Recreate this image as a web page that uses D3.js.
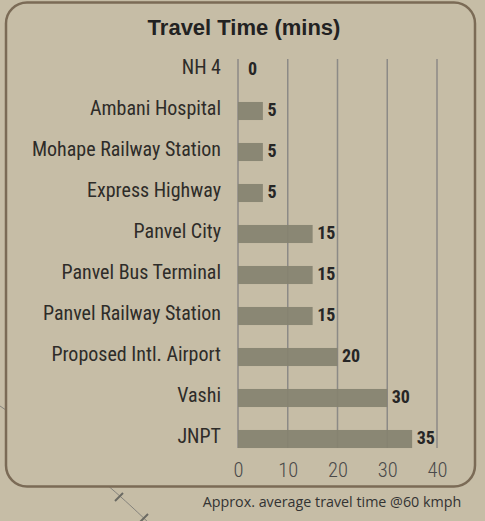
<!DOCTYPE html>
<html>
<head>
<meta charset="utf-8">
<script src="https://cdn.jsdelivr.net/npm/d3@7"></script>
<style>
  body { margin: 0; background: #c6bda6; }
  svg { display: block; }
  .cat { font-family: "Roboto Condensed", "DejaVu Sans Condensed", sans-serif; font-weight: 400; fill: #2e2c29; }
  .tick text { font-family: "Roboto Condensed", "DejaVu Sans Condensed", sans-serif; font-weight: 300; fill: #4a4a4a; }
</style>
</head>
<body>
<div id="chart"></div>
<script>
// data
var categories = ["NH 4", "Ambani Hospital", "Mohape Railway Station", "Express Highway",
                  "Panvel City", "Panvel Bus Terminal", "Panvel Railway Station",
                  "Proposed Intl. Airport", "Vashi", "JNPT"];
var minutes = [0, 5, 5, 5, 15, 15, 15, 20, 30, 35];
var tickValues = [0, 10, 20, 30, 40];

var width = 485, height = 521;

let svg = d3.select("#chart").append("svg")
    .attr("width", width)
    .attr("height", height);

svg.append("rect").attr("width", width).attr("height", height).attr("fill", "#c6bda6");

// background map line peeking out behind the box
svg.append("path")
   .attr("d", d3.line().curve(d3.curveBasis)([[0, 406], [60, 447], [112, 488], [150, 524]]))
   .attr("fill", "none")
   .attr("stroke", "#85837c")
   .attr("stroke-width", 1);
[[119, 497], [144, 518]].forEach(function(p) {
    svg.append("line")
       .attr("x1", p[0] - 4).attr("y1", p[1] + 4)
       .attr("x2", p[0] + 4).attr("y2", p[1] - 4)
       .attr("stroke", "#6b6a63")
       .attr("stroke-width", 2);
});

// panel
svg.append("rect")
   .attr("x", 6).attr("y", 2.5)
   .attr("width", 469).attr("height", 484)
   .attr("rx", 21).attr("ry", 21)
   .attr("fill", "#c6bda6")
   .attr("stroke", "#7b6b56")
   .attr("stroke-width", 2.5);

svg.append("text")
   .attr("x", 244).attr("y", 35)
   .attr("text-anchor", "middle")
   .style("font-family", "'Liberation Sans', Arial, sans-serif")
   .style("font-weight", "bold")
   .style("font-size", "22px")
   .style("fill", "#222")
   .text("Travel Time (mins)");

var x = d3.scaleLinear().domain([0, 40]).range([238, 437]);
var y = d3.scaleBand().domain(categories).range([49.5, 459.5])
          .paddingInner(0.56).paddingOuter(0.28);

// grid lines
svg.append("g").selectAll("line")
   .data(tickValues)
   .join("line")
   .attr("x1", d => x(d)).attr("x2", d => x(d))
   .attr("y1", y(categories[0]) - 2)
   .attr("y2", y(categories[categories.length - 1]) + y.bandwidth())
   .attr("stroke", "#8c8a86")
   .attr("stroke-width", 1.5);

// bars
svg.append("g").selectAll("rect")
   .data(minutes)
   .join("rect")
   .attr("x", x(0))
   .attr("y", (d, i) => y(categories[i]))
   .attr("width", d => x(d) - x(0))
   .attr("height", y.bandwidth())
   .attr("fill", "#858270")
   .attr("fill-opacity", 0.93);

// value labels
svg.append("g").selectAll("text")
   .data(minutes)
   .join("text")
   .attr("x", d => x(d) + (d === 0 ? 10 : 4.5))
   .attr("y", (d, i) => y(categories[i]) + y.bandwidth() / 2 + 5)
   .style("font-family", "'Roboto Condensed', 'DejaVu Sans Condensed', sans-serif")
   .style("font-weight", "bold")
   .style("font-size", "18px")
   .style("fill", "#262626")
   .text(d => d);

// category labels
svg.append("g").selectAll("text")
   .data(categories)
   .join("text")
   .attr("class", "cat")
   .attr("x", 221)
   .attr("y", d => y(d) + y.bandwidth() / 2 + 4)
   .attr("text-anchor", "end")
   .style("font-size", "20px")
   .text(d => d);

// x axis
var axis = svg.append("g")
   .attr("transform", "translate(0,477)")
   .call(d3.axisBottom(x).tickValues(tickValues).tickSize(0).tickPadding(0));
axis.select(".domain").remove();
axis.selectAll("text")
   .attr("dy", 0)
   .attr("y", 0)
   .style("font-size", "20.5px");

svg.append("text")
   .attr("x", 332).attr("y", 507)
   .attr("text-anchor", "middle")
   .style("font-family", "'Open Sans', sans-serif")
   .style("font-size", "14.3px")
   .style("fill", "#333")
   .text("Approx. average travel time @60 kmph");
</script>
</body>
</html>
